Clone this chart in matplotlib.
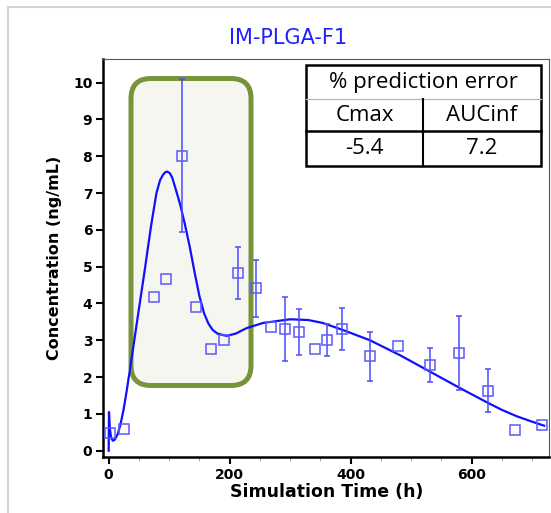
import matplotlib.pyplot as plt
from matplotlib.patches import FancyBboxPatch, Rectangle
from matplotlib.lines import Line2D
from matplotlib.ticker import MultipleLocator

# simulated profile
t_sim = [0, 0.5, 2, 4, 7, 10, 15, 20, 25, 30, 35, 40, 50, 60, 70, 79, 85, 90, 94,
         97, 101, 105, 110, 118, 126, 134, 142, 150, 158, 165, 172, 180, 195,
         210, 228, 255, 300, 330, 354, 387, 432, 481, 531, 581, 627, 650, 674,
         698, 720]
c_sim = [0, 1.05, 0.6, 0.35, 0.27, 0.3, 0.45, 0.75, 1.15, 1.65, 2.19, 2.74, 3.85,
         4.95, 6.1, 7.0, 7.35, 7.5, 7.57, 7.58, 7.54, 7.42, 7.15, 6.7, 6.15, 5.54,
         4.85, 4.2, 3.72, 3.45, 3.28, 3.18, 3.12, 3.18, 3.33, 3.47, 3.57, 3.55,
         3.47, 3.28, 3.0, 2.6, 2.15, 1.7, 1.3, 1.11, 0.94, 0.8, 0.68]

# observed data
t_obs = [2, 26, 75, 95, 121, 145, 169, 191, 214, 244, 269, 291, 315, 341, 361,
         385, 432, 478, 531, 579, 627, 672, 717]
c_obs = [0.48, 0.58, 4.18, 4.67, 8.01, 3.90, 2.76, 3.01, 4.82, 4.41, 3.37, 3.30,
         3.23, 2.76, 3.01, 3.30, 2.56, 2.85, 2.33, 2.66, 1.63, 0.56, 0.70]
sd_obs = [0, 0, 0, 0, 2.08, 0, 0, 0, 0.70, 0.77, 0, 0.87, 0.63, 0, 0.43, 0.57,
          0.66, 0, 0.47, 1.0, 0.58, 0, 0]

cabecera = "% prediction error"
columnas = ["Cmax", "AUCinf"]
valores = ["-5.4", "7.2"]

plt.rcParams["font.family"] = ["DejaVu Sans"]

fig = plt.figure(figsize=(5.51, 5.13), dpi=100)
ax = fig.add_axes([0.1878, 0.1092, 0.8086, 0.7758])

# marco gris exterior
fig.add_artist(Line2D([0.08, 0.08], [0, 5.06], transform=fig.dpi_scale_trans,
                      color="#d4d4d4", lw=1.5))
fig.add_artist(Line2D([0.08, 5.51], [5.06, 5.06], transform=fig.dpi_scale_trans,
                      color="#d4d4d4", lw=1.5))

# recuadro verde redondeado
caja = FancyBboxPatch((1.51, 1.475), 0.80, 2.67, boxstyle="round,pad=0.2",
                      transform=fig.dpi_scale_trans, facecolor="#f6f6f1",
                      edgecolor="#77933c", lw=3.6, zorder=1, clip_on=False)
ax.add_patch(caja)

ax.plot(t_sim, c_sim, color="#1010ff", lw=1.6, zorder=3)

barras = [i for i, s in enumerate(sd_obs) if s > 0]
ax.errorbar([t_obs[i] for i in barras], [c_obs[i] for i in barras],
            yerr=[sd_obs[i] for i in barras], fmt="none", ecolor="#4a4aff",
            elinewidth=1.1, capsize=2.5, capthick=1.1, zorder=4)
ax.plot(t_obs, c_obs, "s", mfc="none", mec="#5a5aff", ms=7, mew=1.1, zorder=5)

ax.set_xlim(-8.6, 728)
ax.set_ylim(-0.17, 10.64)
ax.xaxis.set_major_locator(MultipleLocator(200))
ax.xaxis.set_minor_locator(MultipleLocator(50))
ax.set_yticks(range(0, 11))
ax.tick_params(direction="out", length=5, width=1.5, labelsize=10, pad=3)
ax.tick_params(which="minor", length=3, color="#999999")
for lab in ax.get_xticklabels() + ax.get_yticklabels():
    lab.set_fontweight("bold")
for lado in ["left", "bottom"]:
    ax.spines[lado].set_linewidth(1.8)
ax.spines["top"].set_color("#555555")
ax.spines["right"].set_color("#555555")

ax.set_xlabel("Simulation Time (h)", fontsize=12.5, fontweight="bold", labelpad=1)
ax.set_ylabel("Concentration (ng/mL)", fontsize=11.5, fontweight="bold", labelpad=8)
fig.text(0.523, 0.925, "IM-PLGA-F1", color="#2020ff", fontsize=15,
         ha="center", va="center")

# tabla del error de prediccion (en pulgadas desde abajo-izquierda)
x0, x1, xm = 3.06, 5.405, 4.233
ytop, yr1, yr2, ybot = 4.48, 4.137, 3.82, 3.47
fig.add_artist(Rectangle((x0, ybot), x1 - x0, ytop - ybot, transform=fig.dpi_scale_trans,
                         facecolor="white", edgecolor="black", lw=1.8, zorder=6))
fig.add_artist(Line2D([x0, x1], [yr1, yr1], transform=fig.dpi_scale_trans,
                      color="#bbbbbb", lw=1.0, zorder=7))
fig.add_artist(Line2D([x0, x1], [yr2, yr2], transform=fig.dpi_scale_trans,
                      color="black", lw=1.8, zorder=7))
fig.add_artist(Line2D([xm, xm], [ybot, yr1], transform=fig.dpi_scale_trans,
                      color="black", lw=1.5, zorder=7))
fuente = dict(family=["Open Sans", "DejaVu Sans"], fontsize=16, ha="center",
              va="center", transform=fig.dpi_scale_trans, zorder=8)
fig.text((x0 + x1) / 2, (ytop + yr1) / 2, cabecera, **fuente)
fig.text((x0 + xm) / 2, (yr1 + yr2) / 2, columnas[0], **fuente)
fig.text((xm + x1) / 2, (yr1 + yr2) / 2, columnas[1], **fuente)
fig.text((x0 + xm) / 2, (yr2 + ybot) / 2, valores[0], **fuente)
fig.text((xm + x1) / 2, (yr2 + ybot) / 2, valores[1], **fuente)

fig.savefig("out.png", dpi=100)
